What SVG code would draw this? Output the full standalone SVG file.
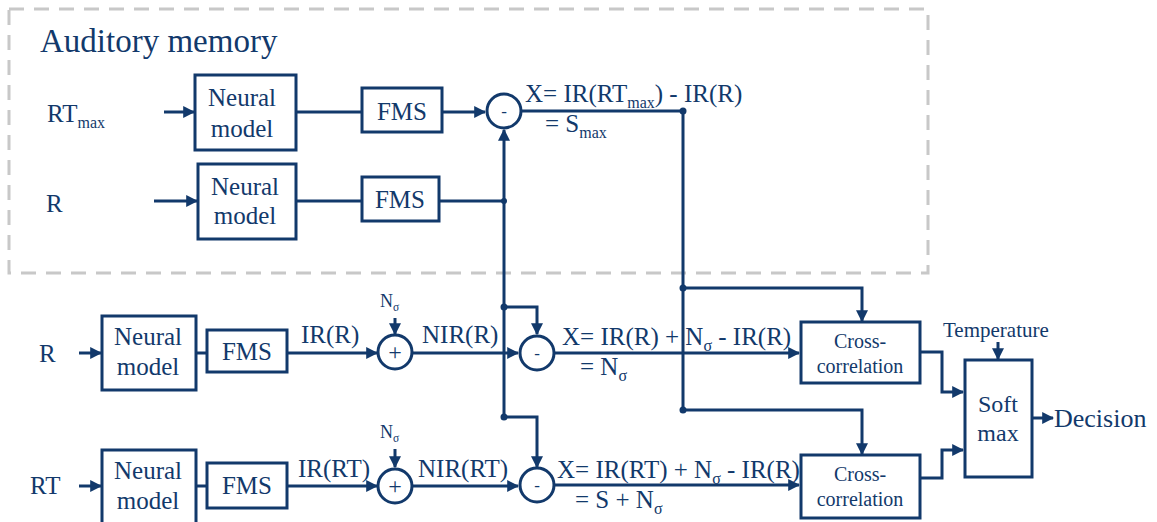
<svg xmlns="http://www.w3.org/2000/svg" width="1157" height="522" viewBox="0 0 1157 522" font-family="'Liberation Serif', 'Times New Roman', 'DejaVu Serif', serif">
<defs>
<marker id="ah" viewBox="0 0 10 10" refX="9" refY="5" markerWidth="4" markerHeight="4" orient="auto" markerUnits="strokeWidth">
<path d="M0,0 L10,5 L0,10 z" fill="#12396b"/>
</marker>
</defs>
<style>
text{font-family:'Liberation Serif','Times New Roman','DejaVu Serif',serif;fill:#12396b}
.box{fill:#fff;stroke:#12396b;stroke-width:3}
.ln{fill:none;stroke:#12396b;stroke-width:3}
.ar{fill:none;stroke:#12396b;stroke-width:3;marker-end:url(#ah)}
.dot{fill:#12396b}
.t25{font-size:25px}
.t24{font-size:24px}
.t20{font-size:20px}
.t17{font-size:17px}
.t18{font-size:18px}
.sub{font-size:0.64em}
</style>
<rect x="9" y="9" width="919" height="264" fill="none" stroke="#c8c8c8" stroke-width="3" stroke-dasharray="15,10"/>
<text x="40" y="52" style="font-size:33px">Auditory memory</text>

<g id="connectors">
<line class="ar" x1="164" y1="112" x2="194" y2="112"/>
<line class="ln" x1="296" y1="112" x2="362" y2="112"/>
<line class="ar" x1="442" y1="112" x2="485" y2="112"/>
<polyline class="ln" points="521,111 683,111 683,410"/>
<line class="ar" x1="154" y1="201" x2="197" y2="201"/>
<line class="ln" x1="296" y1="201" x2="362" y2="201"/>
<line class="ln" x1="439" y1="201" x2="504" y2="201"/>
<line class="ar" x1="504" y1="201" x2="504" y2="130"/>
<line class="ln" x1="504" y1="201" x2="504" y2="417"/>
<polyline class="ar" points="504,307 537,307 537,334"/>
<polyline class="ar" points="504,417 537,417 537,467"/>
<line class="ar" x1="79" y1="353" x2="101" y2="353"/>
<line class="ln" x1="196" y1="353" x2="207" y2="353"/>
<line class="ar" x1="287" y1="353" x2="377" y2="353"/>
<line class="ar" x1="395" y1="318" x2="395" y2="334"/>
<line class="ar" x1="412" y1="353" x2="518" y2="353"/>
<line class="ar" x1="555" y1="353" x2="799" y2="353"/>
<line class="ar" x1="79" y1="486" x2="101" y2="486"/>
<line class="ln" x1="196" y1="486" x2="207" y2="486"/>
<line class="ar" x1="287" y1="486" x2="377" y2="486"/>
<line class="ar" x1="395" y1="449" x2="395" y2="467"/>
<line class="ar" x1="412" y1="486" x2="518" y2="486"/>
<line class="ar" x1="555" y1="485" x2="799" y2="485"/>
<polyline class="ar" points="683,288 862,288 862,321"/>
<polyline class="ar" points="683,410 862,410 862,454"/>
<polyline class="ar" points="920,352 942,352 942,392 963,392"/>
<polyline class="ar" points="920,478 942,478 942,450 963,450"/>
<line class="ar" x1="998" y1="342" x2="998" y2="359"/>
<line class="ar" x1="1032" y1="418" x2="1053" y2="418"/>
<circle class="dot" cx="683" cy="111" r="3.5"/>
<circle class="dot" cx="504" cy="201" r="3"/>
<circle class="dot" cx="504" cy="307" r="3.5"/>
<circle class="dot" cx="504" cy="417" r="3.5"/>
<circle class="dot" cx="683" cy="288" r="3.5"/>
<circle class="dot" cx="683" cy="410" r="3.5"/>
</g>

<g id="label-rtmax"><text x="47" y="122" class="t25">RT<tspan class="sub" dy="6">max</tspan></text></g>
<g id="label-r1"><text x="46" y="212" class="t25">R</text></g>
<g id="label-r2"><text x="39" y="362" class="t25">R</text></g>
<g id="label-rt"><text x="30" y="494" class="t25">RT</text></g>

<g id="nm1"><rect class="box" x="195" y="75" width="101" height="75"/>
<text x="242" y="106" class="t25" text-anchor="middle">Neural</text><text x="242" y="137" class="t25" text-anchor="middle">model</text></g>
<g id="fms1"><rect class="box" x="362" y="88" width="80" height="44"/><text x="402" y="120" class="t25" text-anchor="middle">FMS</text></g>
<g id="sub1"><circle class="box" cx="504" cy="111" r="17"/><text x="504" y="117" class="t17" text-anchor="middle">-</text></g>

<g id="nm2"><rect class="box" x="198" y="164" width="98" height="75"/>
<text x="245" y="195" class="t25" text-anchor="middle">Neural</text><text x="245" y="224" class="t25" text-anchor="middle">model</text></g>
<g id="fms2"><rect class="box" x="362" y="177" width="77" height="44"/><text x="400" y="208" class="t25" text-anchor="middle">FMS</text></g>

<g id="eq1"><text x="525" y="102" class="t25">X= IR(RT<tspan class="sub" dy="6">max</tspan><tspan dy="-6">) - IR(R)</tspan></text>
<text x="545" y="132" class="t25">= S<tspan class="sub" dy="6">max</tspan></text></g>

<g id="nm3"><rect class="box" x="102" y="316" width="94" height="74"/>
<text x="148" y="345" class="t25" text-anchor="middle">Neural</text><text x="148" y="375" class="t25" text-anchor="middle">model</text></g>
<g id="fms3"><rect class="box" x="207" y="330" width="80" height="42"/><text x="247" y="360" class="t25" text-anchor="middle">FMS</text></g>
<g id="lbl-irr"><text x="301" y="343" class="t25">IR(R)</text></g>
<g id="ns1"><text x="380" y="307" class="t18">N<tspan class="sub" dy="4">σ</tspan></text></g>
<g id="add1"><circle class="box" cx="395" cy="352" r="17"/><text x="395" y="360" class="t24" text-anchor="middle">+</text></g>
<g id="lbl-nirr"><text x="422" y="343" class="t25">NIR(R)</text></g>
<g id="sub2"><circle class="box" cx="537" cy="353" r="17"/><text x="537" y="359" class="t17" text-anchor="middle">-</text></g>
<g id="eq2"><text x="562" y="345" class="t25">X= IR(R) + N<tspan class="sub" dy="6">σ</tspan><tspan dy="-6"> - IR(R)</tspan></text>
<text x="580" y="375" class="t25">=  N<tspan class="sub" dy="6">σ</tspan></text></g>

<g id="nm4"><rect class="box" x="102" y="450" width="94" height="76"/>
<text x="148" y="479" class="t25" text-anchor="middle">Neural</text><text x="148" y="509" class="t25" text-anchor="middle">model</text></g>
<g id="fms4"><rect class="box" x="207" y="463" width="80" height="45"/><text x="247" y="494" class="t25" text-anchor="middle">FMS</text></g>
<g id="lbl-irrt"><text x="298" y="477" class="t25">IR(RT)</text></g>
<g id="ns2"><text x="380" y="438" class="t18">N<tspan class="sub" dy="4">σ</tspan></text></g>
<g id="add2"><circle class="box" cx="395" cy="486" r="17"/><text x="395" y="494" class="t24" text-anchor="middle">+</text></g>
<g id="lbl-nirrt"><text x="418" y="477" class="t25">NIR(RT)</text></g>
<g id="sub3"><circle class="box" cx="537" cy="485" r="17"/><text x="537" y="491" class="t17" text-anchor="middle">-</text></g>
<g id="eq3"><text x="557" y="478" class="t25">X= IR(RT) + N<tspan class="sub" dy="6">σ</tspan><tspan dy="-6"> - IR(R)</tspan></text>
<text x="575" y="508" class="t25">= S + N<tspan class="sub" dy="6">σ</tspan></text></g>

<g id="cc1"><rect class="box" x="801" y="322" width="119" height="61"/>
<text x="860" y="348" class="t20" text-anchor="middle">Cross-</text><text x="860" y="373" class="t20" text-anchor="middle">correlation</text></g>
<g id="cc2"><rect class="box" x="801" y="455" width="119" height="63"/>
<text x="860" y="481" class="t20" text-anchor="middle">Cross-</text><text x="860" y="506" class="t20" text-anchor="middle">correlation</text></g>
<g id="temp"><text x="943" y="337" style="font-size:21px">Temperature</text></g>
<g id="softmax"><rect class="box" x="965" y="360" width="67" height="117"/>
<text x="998" y="412" class="t24" text-anchor="middle">Soft</text><text x="998" y="441" class="t24" text-anchor="middle">max</text></g>
<g id="decision"><text x="1054" y="427" style="font-size:26px">Decision</text></g>
</svg>
